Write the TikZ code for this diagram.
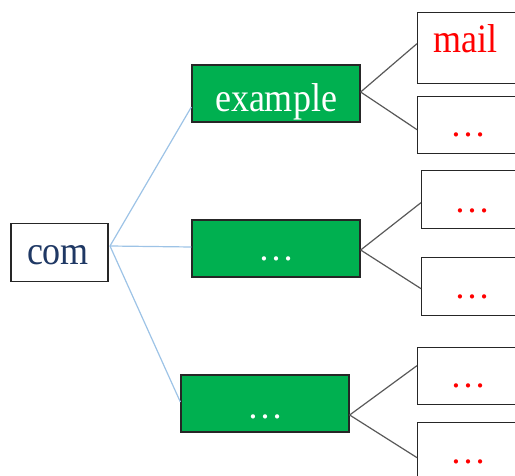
\documentclass[tikz,border=0pt]{standalone}
\usepackage{fontspec}
\setmainfont{Liberation Serif}
\definecolor{boxgreen}{HTML}{00B050}
\definecolor{navy}{HTML}{1F3864}
\definecolor{lineblue}{HTML}{9DC3E6}
\definecolor{linegray}{HTML}{595959}
\definecolor{edge}{HTML}{262626}
\newcommand{\tallt}[1]{\scalebox{1}[1.12]{#1}}
\tikzset{
  whitebox/.style={draw=edge, line width=1.3pt, fill=white, rectangle, inner sep=0pt},
  greenbox/.style={draw=edge, line width=1.3pt, fill=boxgreen, rectangle, inner sep=0pt, minimum width=168pt, minimum height=57pt},
  rightbox/.style={whitebox, minimum width=120pt, anchor=north west},
  txt/.style={font=\fontsize{36}{40}\selectfont, inner sep=0pt, anchor=base},
  blueline/.style={draw=lineblue, line width=1.2pt},
  grayline/.style={draw=linegray, line width=1.2pt}
}
\begin{document}
\begin{tikzpicture}[x=1pt, y=-1pt]
\useasboundingbox (0,0) rectangle (515,476);
\clip (0,0) rectangle (515,476);
% left root
\node[whitebox, minimum width=97pt, minimum height=58pt] (com) at (59.5,252.5) {};
\coordinate (comR) at (110,246);
% green level
\node[greenbox] (ex) at (276,93.5) {};
\node[greenbox] (mid) at (276,248.5) {};
\node[greenbox] (bot) at (265,403.5) {};
% right level
\node[rightbox, minimum height=71pt] (b1) at (417,12) {};
\node[rightbox, minimum height=57pt] (b2) at (417,96) {};
\node[rightbox, minimum height=58pt] (b3) at (421,170) {};
\node[rightbox, minimum height=58pt] (b4) at (421,257) {};
\node[rightbox, minimum height=57pt] (b5) at (417,347) {};
\node[rightbox, minimum height=57pt] (b6) at (417,422) {};
% connectors
\draw[blueline] (comR) -- ([yshift=-13.5pt]ex.west);
\draw[blueline] (comR) -- ([yshift=1.5pt]mid.west);
\draw[blueline] (comR) -- ([yshift=1.5pt]bot.west);
\draw[grayline] ([yshift=1.5pt]ex.east) -- ([yshift=4.5pt]b1.west);
\draw[grayline] ([yshift=1.5pt]ex.east) -- ([yshift=-4.5pt]b2.west);
\draw[grayline] ([yshift=-1.5pt]mid.east) -- ([yshift=-3pt]b3.west);
\draw[grayline] ([yshift=-1.5pt]mid.east) -- ([yshift=-2pt]b4.west);
\draw[grayline] ([yshift=-11.5pt]bot.east) -- ([yshift=10.5pt]b5.west);
\draw[grayline] ([yshift=-11.5pt]bot.east) -- ([yshift=-6.5pt]b6.west);
% texts
\node[txt, text=navy] (tcom) at (58,265) {\tallt{com}};
\node[txt, text=white] (tex) at (276,112) {\tallt{example}};
\node[txt, text=white] (tmid) at (276,261) {…};
\node[txt, text=white] (tbot) at (265,418) {…};
\node[txt, text=red] (t1) at (465,53) {\tallt{mail}};
\node[txt, text=red] (t2) at (468,137) {…};
\node[txt, text=red] (t3) at (472,213) {…};
\node[txt, text=red] (t4) at (472,299) {…};
\node[txt, text=red] (t5) at (468,388) {…};
\node[txt, text=red] (t6) at (468,464) {…};
\end{tikzpicture}
\end{document}
